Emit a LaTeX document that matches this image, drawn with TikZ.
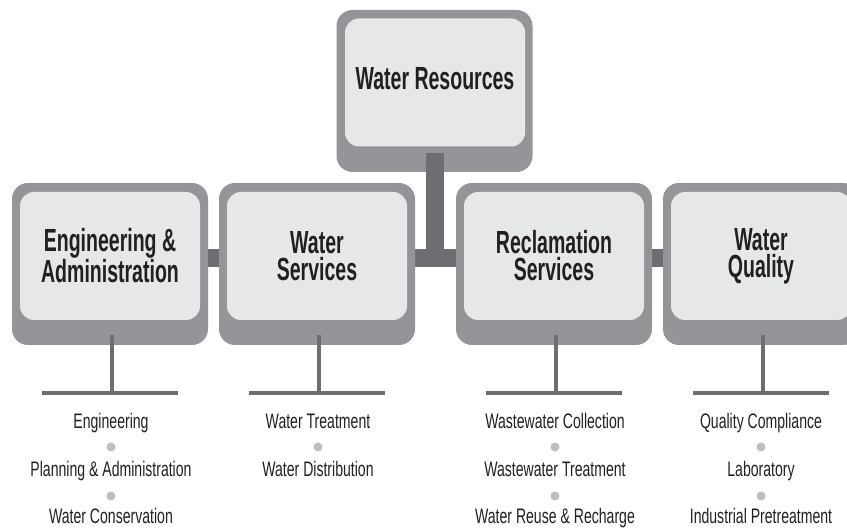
\documentclass[tikz,border=0pt]{standalone}
\usepackage{fontspec}
\setmainfont{Liberation Sans}
\newfontfamily\headfont{Liberation Sans}[FakeStretch=0.61]
\newfontfamily\itemfont{Liberation Sans}[FakeStretch=0.67]

\definecolor{shellgray}{HTML}{939598}
\definecolor{panelgray}{HTML}{E6E7E8}
\definecolor{linkgray}{HTML}{6D6E71}
\definecolor{bulletgray}{HTML}{BCBEC0}
\definecolor{inkgray}{HTML}{231F20}

\pgfdeclarelayer{background}
\pgfsetlayers{background,main}

\tikzset{
  shell/.style={fill=shellgray,rounded corners=16pt,minimum width=196pt,minimum height=162pt,inner sep=0pt},
  panel/.style={fill=panelgray,rounded corners=14pt,minimum width=180pt,minimum height=128pt,inner sep=0pt,align=center,text=inkgray,font=\headfont\bfseries\fontsize{32}{27}\selectfont},
  trunk/.style={linkgray,line width=18pt},
  twig/.style={linkgray,line width=4pt},
  task/.style={anchor=base,inner sep=0pt,text=inkgray,font=\itemfont\fontsize{21}{24}\selectfont},
  bulletdot/.style={circle,fill=bulletgray,minimum size=9pt,inner sep=0pt}
}

\begin{document}
\begin{tikzpicture}[x=1pt,y=-1pt]
\useasboundingbox (0,0) rectangle (847,529);
\clip (0,0) rectangle (847,529);

% top box
\node[shell] (resbox) at (434.5,91) {};
\node[panel,text depth=8pt] (res) at (435,82.5) {Water Resources};

% division boxes
\node[shell] (engbox) at (110,264) {};
\node[panel] (eng) at (110,256) {Engineering \&\\Administration};
\node[shell] (wsbox) at (317,264) {};
\node[panel] (ws) at (317,256) {Water\\Services};
\node[shell] (recbox) at (554,264) {};
\node[panel] (rec) at (554,256) {Reclamation\\Services};
\node[shell] (wqbox) at (761,264) {};
\node[panel] (wq) at (761,256) {Water\\Quality};

% links
\begin{pgfonlayer}{background}
\draw[trunk] ([yshift=-2pt]eng.east) -- ([yshift=-2pt]wq.west);
\end{pgfonlayer}
\draw[trunk] ([yshift=19pt]resbox.south) -- ([yshift=-11pt]resbox.south |- eng.east);

% section rules
\coordinate (engL) at (42,393);  \coordinate (engR) at (178,393);
\coordinate (wsL) at (249,393);  \coordinate (wsR) at (385,393);
\coordinate (recL) at (486,393); \coordinate (recR) at (622,393);
\coordinate (wqL) at (693,393);  \coordinate (wqR) at (829,393);
\draw[twig] ([xshift=2pt,yshift=10pt]engbox.south) -- ([xshift=2pt]engbox.south |- engL);
\draw[twig] ([xshift=2pt,yshift=10pt]wsbox.south) -- ([xshift=2pt]wsbox.south |- wsL);
\draw[twig] ([xshift=2pt,yshift=10pt]recbox.south) -- ([xshift=2pt]recbox.south |- recL);
\draw[twig] ([xshift=2pt,yshift=10pt]wqbox.south) -- ([xshift=2pt]wqbox.south |- wqL);
\draw[twig] (engL) -- (engR);
\draw[twig] (wsL) -- (wsR);
\draw[twig] (recL) -- (recR);
\draw[twig] (wqL) -- (wqR);

% sections
\node[task] (eng1) at (111,429) {Engineering};
\node[bulletdot] (engdot1) at (111,447) {};
\node[task] (eng2) at (111,477) {Planning \& Administration};
\node[bulletdot] (engdot2) at (111,496) {};
\node[task] (eng3) at (111,524) {Water Conservation};

\node[task] (ws1) at (318,429) {Water Treatment};
\node[bulletdot] (wsdot1) at (318,447) {};
\node[task] (ws2) at (318,477) {Water Distribution};

\node[task] (rec1) at (555,429) {Wastewater Collection};
\node[bulletdot] (recdot1) at (555,447) {};
\node[task] (rec2) at (555,477) {Wastewater Treatment};
\node[bulletdot] (recdot2) at (555,496) {};
\node[task] (rec3) at (555,524) {Water Reuse \& Recharge};

\node[task] (wq1) at (761,429) {Quality Compliance};
\node[bulletdot] (wqdot1) at (761,447) {};
\node[task] (wq2) at (761,477) {Laboratory};
\node[bulletdot] (wqdot2) at (761,496) {};
\node[task] (wq3) at (761,524) {Industrial Pretreatment};
\end{tikzpicture}
\end{document}
